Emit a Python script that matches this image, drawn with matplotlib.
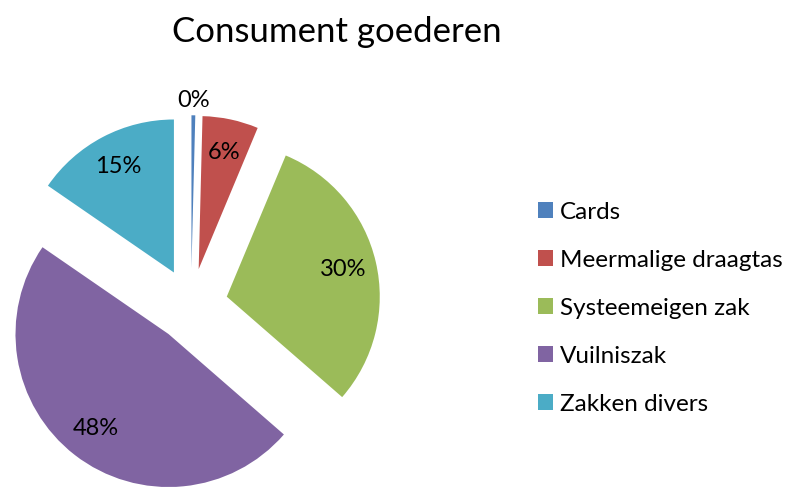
import matplotlib.pyplot as plt

categories = ["Cards", "Meermalige draagtas", "Systeemeigen zak", "Vuilniszak", "Zakken divers"]
shares = [0.4, 5.9, 30.1, 48.2, 15.4]
colors = ["#4F81BD", "#C0504D", "#9BBB59", "#8064A2", "#4BACC6"]

plt.rcParams['font.family'] = ['Lato', 'DejaVu Sans']

fig = plt.figure(figsize=(7.9, 4.87), dpi=100)
ax = fig.add_axes([0, 0, 1, 1])

wedges, texts, autotexts = ax.pie(
    shares, colors=colors, startangle=90, counterclock=False,
    explode=[0.24] * len(shares), autopct='%1.0f%%', pctdistance=0.78,
    textprops={'fontsize': 17, 'color': 'black'})

# the tiny slice gets its label outside
x, y = autotexts[0].get_position()
autotexts[0].set_position((x * 1.31, y * 1.31))

# 1 data unit = 153 px, pie centre at (191, 305) px
r = 153.0
ax.set_xlim(-191 / r, (790 - 191) / r)
ax.set_ylim(-(487 - 305) / r, 305 / r)
ax.set_aspect('auto')
ax.axis('off')

fig.text(0.426, 0.935, "Consument goederen", ha='center', va='center', fontsize=25)

ax.legend(wedges, categories, loc='upper left', bbox_to_anchor=(528 / 790, 1 - 192 / 487),
          frameon=False, fontsize=17.5, handlelength=0.62, handleheight=0.62,
          handletextpad=0.28, labelspacing=1.11, borderaxespad=0)

fig.savefig("out.png", dpi=100)
